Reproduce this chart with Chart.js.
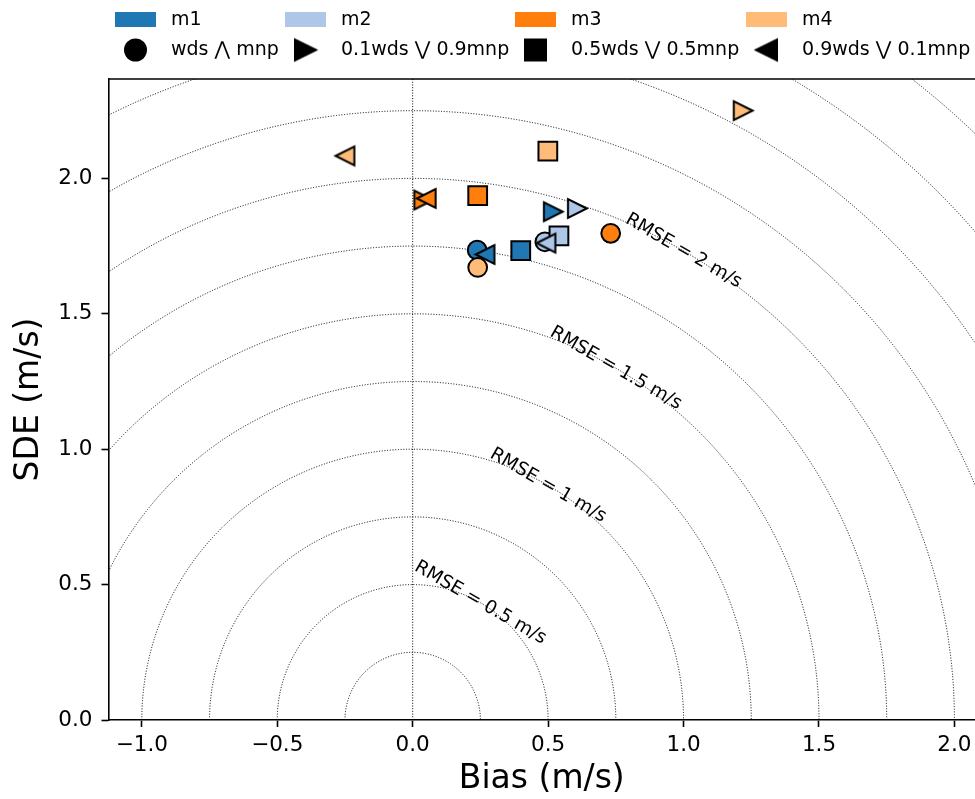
<!DOCTYPE html>
<html>
<head>
<meta charset="utf-8">
<script src="https://cdn.jsdelivr.net/npm/chart.js@4"></script>
<style>
  body { margin: 0; background: #fff; }
  canvas { display: block; }
</style>
</head>
<body>
<canvas id="grafica" width="975" height="799"></canvas>
<script>
// modelos y colores
const models = ['m1', 'm2', 'm3', 'm4'];
const modelColors = ['#1f77b4', '#aec7e8', '#ff7f0e', '#ffbb78'];

// combinaciones (orden de los marcadores)
const combos = ['wds \u22C0 mnp', '0.1wds \u22C1 0.9mnp', '0.5wds \u22C1 0.5mnp', '0.9wds \u22C1 0.1mnp'];

// bias y SDE por modelo, en el orden de combos
const biasM1 = [0.238, 0.519, 0.399, 0.267];
const sdeM1 = [1.735, 1.877, 1.733, 1.719];
const biasM2 = [0.488, 0.608, 0.540, 0.492];
const sdeM2 = [1.766, 1.889, 1.788, 1.761];
const biasM3 = [0.731, 0.041, 0.240, 0.050];
const sdeM3 = [1.797, 1.920, 1.936, 1.926];
const biasM4 = [0.240, 1.220, 0.499, -0.250];
const sdeM4 = [1.671, 2.250, 2.101, 2.083];

const biasAll = [biasM1, biasM2, biasM3, biasM4];
const sdeAll = [sdeM1, sdeM2, sdeM3, sdeM4];

// ticks
const xTickValues = [-1.0, -0.5, 0.0, 0.5, 1.0, 1.5, 2.0];
const xTickLabels = ['\u22121.0', '\u22120.5', '0.0', '0.5', '1.0', '1.5', '2.0'];
const yTickValues = [0.0, 0.5, 1.0, 1.5, 2.0];
const yTickLabels = ['0.0', '0.5', '1.0', '1.5', '2.0'];

// circulos de RMSE
const rmseRings = [0.25, 0.5, 0.75, 1.0, 1.25, 1.5, 1.75, 2.0, 2.25, 2.5, 2.75, 3.0];
const rmseLabeled = [0.5, 1, 1.5, 2];

const FONT = "'DejaVu Sans', sans-serif";
const MS = 18.75; // tamaño de marcador (px)

// triangulo estilo matplotlib en un canvas
function triangulo(color, dir, size) {
  const s = size || MS;
  const c = document.createElement('canvas');
  const w = Math.ceil(s + 6);
  c.width = w; c.height = w;
  const g = c.getContext('2d');
  const h = s / 2, m = w / 2;
  g.beginPath();
  if (dir === 'right') {
    g.moveTo(m + h, m); g.lineTo(m - h, m - h); g.lineTo(m - h, m + h);
  } else {
    g.moveTo(m - h, m); g.lineTo(m + h, m - h); g.lineTo(m + h, m + h);
  }
  g.closePath();
  g.fillStyle = color;
  g.fill();
  g.lineWidth = 2;
  g.lineJoin = 'miter';
  g.strokeStyle = '#000';
  g.stroke();
  return c;
}

const datasets = models.map((m, k) => ({
  label: m,
  data: biasAll[k].map((b, i) => ({ x: b, y: sdeAll[k][i] })),
  pointStyle: ['circle', triangulo(modelColors[k], 'right'), 'rect', triangulo(modelColors[k], 'left')],
  pointRadius: [MS / 2, MS / 2, MS / 2 / Math.SQRT1_2, MS / 2],
  pointHoverRadius: [MS / 2, MS / 2, MS / 2 / Math.SQRT1_2, MS / 2],
  backgroundColor: modelColors[k],
  borderColor: '#000',
  borderWidth: 2,
  order: models.length - k
}));

const anillos = {
  id: 'anillos',
  beforeDatasetsDraw(chart) {
    const { ctx, chartArea: a, scales: { x, y } } = chart;
    const cx = x.getPixelForValue(0), cy = y.getPixelForValue(0);
    ctx.save();
    ctx.beginPath();
    ctx.rect(a.left, a.top, a.right - a.left, a.bottom - a.top);
    ctx.clip();
    ctx.strokeStyle = '#000';
    ctx.lineWidth = 1;
    ctx.setLineDash([1, 1.7]);
    rmseRings.forEach(r => {
      const rx = x.getPixelForValue(r) - cx;
      const ry = cy - y.getPixelForValue(r);
      ctx.beginPath();
      ctx.ellipse(cx, cy, rx, ry, 0, Math.PI, 2 * Math.PI);
      ctx.stroke();
    });
    ctx.beginPath();
    ctx.moveTo(cx, a.bottom);
    ctx.lineTo(cx, a.top);
    ctx.stroke();
    ctx.setLineDash([]);

    // etiquetas
    ctx.fillStyle = '#000';
    ctx.font = '18.5px ' + FONT;
    ctx.textAlign = 'center';
    ctx.textBaseline = 'middle';
    const th = Math.PI / 3;
    rmseLabeled.forEach(r => {
      const px = x.getPixelForValue(r * Math.cos(th));
      const py = y.getPixelForValue(r * Math.sin(th));
      const rx = x.getPixelForValue(r) - cx;
      const ry = cy - y.getPixelForValue(r);
      const ang = Math.atan2(ry * Math.cos(th), rx * Math.sin(th));
      ctx.save();
      ctx.translate(px, py);
      ctx.rotate(ang);
      ctx.fillText('RMSE = ' + r + ' m/s', 0, 0);
      ctx.restore();
    });
    ctx.restore();
  },
  afterDraw(chart) {
    const { ctx, chartArea: a } = chart;
    ctx.save();
    ctx.strokeStyle = '#000';
    ctx.lineWidth = 1.6;
    ctx.beginPath();
    ctx.moveTo(a.left, a.top);
    ctx.lineTo(a.right, a.top);
    ctx.stroke();
    ctx.restore();
  }
};

// leyenda de dos filas
const legendCols = [115, 285, 515, 746];
const legendTextX = [171, 341, 571, 802];
const leyenda = {
  id: 'leyenda',
  afterDraw(chart) {
    const ctx = chart.ctx;
    ctx.save();
    ctx.font = '19px ' + FONT;
    ctx.textBaseline = 'middle';
    ctx.textAlign = 'left';
    const legMs = 21;
    models.forEach((m, k) => {
      const x0 = legendCols[k];
      ctx.fillStyle = modelColors[k];
      ctx.fillRect(x0, 12, 41, 15);
      ctx.fillStyle = '#000';
      ctx.fillText(m, legendTextX[k], 20);

      const mx = x0 + 20.5, my = 50;
      ctx.fillStyle = '#000';
      if (k === 0) {
        ctx.beginPath();
        ctx.arc(mx, my, legMs / 2 + 1, 0, 2 * Math.PI);
        ctx.fill();
      } else if (k === 2) {
        ctx.fillRect(mx - legMs / 2 - 1, my - legMs / 2 - 1, legMs + 2, legMs + 2);
      } else {
        const t = triangulo('#000', k === 1 ? 'right' : 'left', legMs);
        ctx.drawImage(t, mx - t.width / 2, my - t.height / 2);
      }
      ctx.fillText(combos[k], legendTextX[k], 50);
    });
    ctx.restore();
  }
};

new Chart(document.getElementById('grafica').getContext('2d'), {
  type: 'scatter',
  data: { datasets: datasets },
  plugins: [anillos, leyenda],
  options: {
    responsive: false,
    animation: false,
    devicePixelRatio: 1,
    layout: { autoPadding: false, padding: { top: 79, right: 0, bottom: 0, left: 0 } },
    plugins: {
      legend: { display: false },
      tooltip: { enabled: false }
    },
    scales: {
      x: {
        type: 'linear',
        min: -1.123,
        max: 2.076,
        afterFit(s) { s.height = 79; s.paddingLeft = 0; s.paddingRight = 0; },
        afterBuildTicks(s) { s.ticks = xTickValues.map(v => ({ value: v })); },
        ticks: {
          callback: v => xTickLabels[xTickValues.indexOf(v)],
          color: '#000',
          padding: 6,
          maxRotation: 0,
          autoSkip: false,
          font: { family: FONT, size: 21.5 }
        },
        grid: { drawOnChartArea: false, drawTicks: true, tickLength: 7, tickWidth: 1.6, tickColor: '#000' },
        border: { color: '#000', width: 1.6 },
        title: { display: true, text: 'Bias (m/s)', color: '#000', font: { family: FONT, size: 33 }, padding: { top: 0, bottom: 0 } }
      },
      y: {
        type: 'linear',
        min: 0,
        max: 2.367,
        afterFit(s) { s.width = 108.5; s.paddingTop = 0; s.paddingBottom = 0; },
        afterBuildTicks(s) { s.ticks = yTickValues.map(v => ({ value: v })); },
        ticks: {
          callback: v => yTickLabels[yTickValues.indexOf(v)],
          color: '#000',
          padding: 9,
          autoSkip: false,
          font: { family: FONT, size: 21.5 }
        },
        grid: { drawOnChartArea: false, drawTicks: true, tickLength: 7, tickWidth: 1.6, tickColor: '#000' },
        border: { color: '#000', width: 1.6 },
        title: { display: true, text: 'SDE (m/s)', color: '#000', font: { family: FONT, size: 33 }, padding: { top: 10, bottom: 0 } }
      }
    }
  }
});
</script>
</body>
</html>
